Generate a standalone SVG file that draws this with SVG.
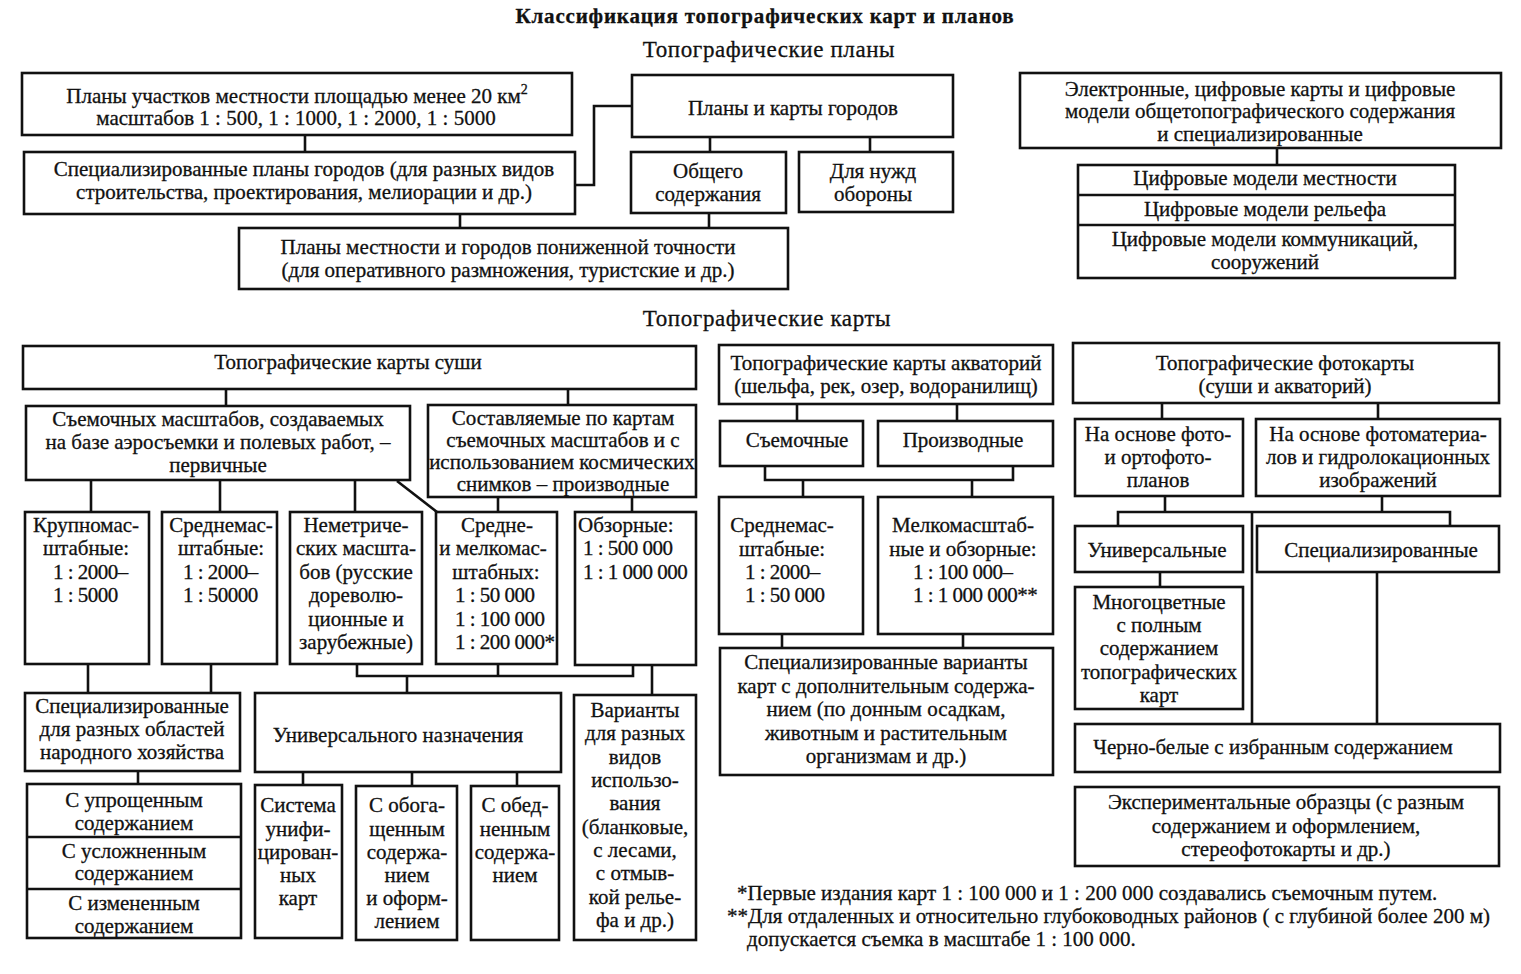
<svg xmlns="http://www.w3.org/2000/svg" width="1521" height="974" viewBox="0 0 1521 974">
<style>
rect{fill:#fff;stroke:#111;stroke-width:2.6}
text{font-family:"Liberation Serif","Times New Roman",serif;font-size:21px;fill:#111;stroke:#111;stroke-width:0.3;text-anchor:middle}
.s{text-anchor:start}
.n{letter-spacing:-0.5px}
.h{font-weight:bold;font-size:21px;letter-spacing:0.8px}
.g{font-size:23px;letter-spacing:0.6px}
.c line,.c polyline{stroke:#111;stroke-width:2.6;fill:none}
</style>
<rect x="0" y="0" width="1521" height="974" style="stroke:none"/>
<text class="h" x="765" y="23">Классификация топографических карт и планов</text>
<text class="g" x="769" y="57">Топографические планы</text>
<text class="g" x="767" y="326">Топографические карты</text>

<g class="c" id="connectors">
<line x1="305" y1="135" x2="305" y2="152"/>
<line x1="460" y1="214" x2="460" y2="228"/>
<polyline points="575,185 594,185 594,106 632,106"/>
<line x1="710" y1="137" x2="710" y2="152"/>
<line x1="870" y1="137" x2="870" y2="152"/>
<line x1="709" y1="213" x2="709" y2="228"/>
<line x1="1277" y1="148" x2="1277" y2="165"/>
<line x1="226" y1="389" x2="226" y2="406"/>
<line x1="568" y1="389" x2="568" y2="405"/>
<line x1="91" y1="480" x2="91" y2="512"/>
<line x1="220" y1="480" x2="220" y2="512"/>
<line x1="355" y1="480" x2="355" y2="512"/>
<line x1="397" y1="481" x2="437" y2="512"/>
<line x1="498" y1="497" x2="498" y2="512"/>
<line x1="632" y1="497" x2="632" y2="512"/>
<line x1="88" y1="664" x2="88" y2="693"/>
<line x1="211" y1="664" x2="211" y2="693"/>
<polyline points="357,664 357,676 633,676 633,665"/>
<line x1="498" y1="664" x2="498" y2="676"/>
<line x1="407" y1="676" x2="407" y2="693"/>
<line x1="652" y1="665" x2="652" y2="695"/>
<line x1="303" y1="772" x2="303" y2="785"/>
<line x1="412" y1="772" x2="412" y2="786"/>
<line x1="517" y1="772" x2="517" y2="786"/>
<line x1="138" y1="771" x2="138" y2="784"/>
<line x1="797" y1="404" x2="797" y2="421"/>
<line x1="957" y1="404" x2="957" y2="421"/>
<polyline points="765,466 765,480 1013,480 1013,466"/>
<line x1="803" y1="480" x2="803" y2="497"/>
<line x1="972" y1="480" x2="972" y2="497"/>
<line x1="782" y1="634" x2="782" y2="648"/>
<line x1="963" y1="634" x2="963" y2="648"/>
<line x1="1162" y1="403" x2="1162" y2="419"/>
<line x1="1378" y1="403" x2="1378" y2="419"/>
<line x1="1165" y1="496" x2="1165" y2="512"/>
<line x1="1382" y1="496" x2="1382" y2="512"/>
<polyline points="1118,526 1118,512 1450,512 1450,526"/>
<line x1="1252" y1="512" x2="1252" y2="724"/>
<line x1="1160" y1="572" x2="1160" y2="587"/>
<line x1="1377" y1="572" x2="1377" y2="724"/>
</g>

<g id="plans-small">
<rect x="22" y="73" width="550" height="62"/>
<text x="297" y="103">Планы участков местности площадью менее 20 км<tspan dy="-9" style="font-size:14px">2</tspan></text>
<text x="296" y="125">масштабов 1 : 500, 1 : 1000, 1 : 2000, 1 : 5000</text>
</g>
<g id="plans-special">
<rect x="24" y="152" width="551" height="62"/>
<text x="304" y="176">Специализированные планы городов (для разных видов</text>
<text x="304" y="199">строительства, проектирования, мелиорации и др.)</text>
</g>
<g id="plans-low">
<rect x="239" y="228" width="549" height="61"/>
<text x="508" y="254">Планы местности и городов пониженной точности</text>
<text x="508" y="277">(для оперативного размножения, туристские и др.)</text>
</g>
<g id="city-plans">
<rect x="632" y="75" width="321" height="62"/>
<text x="793" y="115">Планы и карты городов</text>
</g>
<g id="city-general">
<rect x="631" y="152" width="155" height="61"/>
<text x="708" y="178">Общего</text>
<text x="708" y="201">содержания</text>
</g>
<g id="city-defense">
<rect x="799" y="152" width="154" height="60"/>
<text x="873" y="178">Для нужд</text>
<text x="873" y="201">обороны</text>
</g>
<g id="digital">
<rect x="1020" y="73" width="481" height="75"/>
<text x="1260" y="96">Электронные, цифровые карты и цифровые</text>
<text x="1260" y="118">модели общетопографического содержания</text>
<text x="1260" y="141">и специализированные</text>
</g>
<g id="digital-models">
<rect x="1078" y="165" width="377" height="113"/>
<line x1="1078" y1="195" x2="1455" y2="195" style="stroke:#111;stroke-width:2.6"/>
<line x1="1078" y1="225" x2="1455" y2="225" style="stroke:#111;stroke-width:2.6"/>
<text x="1265" y="185">Цифровые модели местности</text>
<text x="1265" y="216">Цифровые модели рельефа</text>
<text x="1265" y="246">Цифровые модели коммуникаций,</text>
<text x="1265" y="269">сооружений</text>
</g>

<g id="land">
<rect x="23" y="346" width="673" height="43"/>
<text x="348" y="369">Топографические карты суши</text>
</g>
<g id="land-primary">
<rect x="26" y="406" width="384" height="74"/>
<text x="218" y="426">Съемочных масштабов, создаваемых</text>
<text x="218" y="449">на базе аэросъемки  и полевых работ, –</text>
<text x="218" y="472">первичные</text>
</g>
<g id="land-derived">
<rect x="428" y="405" width="268" height="92"/>
<text x="563" y="425">Составляемые по картам</text>
<text x="563" y="447">съемочных масштабов и с</text>
<text x="562" y="469">использованием космических</text>
<text x="563" y="491">снимков – производные</text>
</g>
<g id="large-scale">
<rect x="25" y="512" width="124" height="152"/>
<text x="86" y="532">Крупномас-</text>
<text x="86" y="555">штабные:</text>
<text class="s n" x="53" y="579">1 : 2000–</text>
<text class="s n" x="53" y="602">1 : 5000</text>
</g>
<g id="medium-scale">
<rect x="162" y="512" width="115" height="152"/>
<text x="221" y="532">Среднемас-</text>
<text x="221" y="555">штабные:</text>
<text class="s n" x="183" y="579">1 : 2000–</text>
<text class="s n" x="183" y="602">1 : 50000</text>
</g>
<g id="nonmetric">
<rect x="290" y="512" width="132" height="152"/>
<text x="356" y="532">Неметриче-</text>
<text x="356" y="555">ских масшта-</text>
<text x="356" y="579">бов (русские</text>
<text x="356" y="602">дореволю-</text>
<text x="356" y="626">ционные и</text>
<text x="356" y="649">зарубежные)</text>
</g>
<g id="medium-small">
<rect x="436" y="512" width="121" height="152"/>
<text x="497" y="532">Средне-</text>
<text x="493" y="555">и мелкомас-</text>
<text x="496" y="579">штабных:</text>
<text class="s n" x="455" y="602">1 : 50 000</text>
<text class="s n" x="455" y="626">1 : 100 000</text>
<text class="s n" x="455" y="649">1 : 200 000*</text>
</g>
<g id="overview">
<rect x="575" y="512" width="121" height="153"/>
<text class="s" x="578" y="532">Обзорные:</text>
<text class="s n" x="583" y="555">1 : 500 000</text>
<text class="s n" x="583" y="579">1 : 1 000 000</text>
</g>
<g id="specialized-land">
<rect x="25" y="693" width="215" height="78"/>
<text x="132" y="713">Специализированные</text>
<text x="132" y="736">для разных областей</text>
<text x="132" y="759">народного хозяйства</text>
</g>
<g id="universal">
<rect x="255" y="693" width="306" height="79"/>
<text x="398" y="742">Универсального назначения</text>
</g>
<g id="variants">
<rect x="574" y="695" width="122" height="245"/>
<text x="635" y="717">Варианты</text>
<text x="635" y="740">для разных</text>
<text x="635" y="764">видов</text>
<text x="635" y="787">использо-</text>
<text x="635" y="810">вания</text>
<text x="635" y="834">(бланковые,</text>
<text x="635" y="857">с лесами,</text>
<text x="635" y="880">с отмыв-</text>
<text x="635" y="904">кой релье-</text>
<text x="635" y="927">фа и др.)</text>
</g>
<g id="unified">
<rect x="255" y="785" width="87" height="153"/>
<text x="298" y="812">Система</text>
<text x="298" y="836">унифи-</text>
<text x="298" y="859">цирован-</text>
<text x="298" y="882">ных</text>
<text x="298" y="905">карт</text>
</g>
<g id="enriched">
<rect x="356" y="786" width="101" height="154"/>
<text x="407" y="812">С обога-</text>
<text x="407" y="836">щенным</text>
<text x="407" y="859">содержа-</text>
<text x="407" y="882">нием</text>
<text x="407" y="905">и оформ-</text>
<text x="407" y="928">лением</text>
</g>
<g id="depleted">
<rect x="471" y="786" width="88" height="154"/>
<text x="515" y="812">С обед-</text>
<text x="515" y="836">ненным</text>
<text x="515" y="859">содержа-</text>
<text x="515" y="882">нием</text>
</g>
<g id="content-variants">
<rect x="27" y="784" width="214" height="154"/>
<line x1="27" y1="837" x2="241" y2="837" style="stroke:#111;stroke-width:2.6"/>
<line x1="27" y1="889" x2="241" y2="889" style="stroke:#111;stroke-width:2.6"/>
<text x="134" y="807">С упрощенным</text>
<text x="134" y="830">содержанием</text>
<text x="134" y="858">С усложненным</text>
<text x="134" y="880">содержанием</text>
<text x="134" y="910">С измененным</text>
<text x="134" y="933">содержанием</text>
</g>

<g id="water">
<rect x="719" y="345" width="334" height="59"/>
<text x="886" y="370">Топографические карты акваторий</text>
<text x="886" y="393">(шельфа, рек, озер, водоранилищ)</text>
</g>
<g id="water-survey">
<rect x="720" y="421" width="143" height="45"/>
<text x="797" y="447">Съемочные</text>
</g>
<g id="water-derived">
<rect x="878" y="421" width="175" height="45"/>
<text x="963" y="447">Производные</text>
</g>
<g id="water-medium">
<rect x="719" y="497" width="144" height="137"/>
<text x="782" y="532">Среднемас-</text>
<text x="782" y="556">штабные:</text>
<text class="s n" x="745" y="579">1 : 2000–</text>
<text class="s n" x="745" y="602">1 : 50 000</text>
</g>
<g id="water-small">
<rect x="878" y="497" width="175" height="137"/>
<text x="963" y="532">Мелкомасштаб-</text>
<text x="963" y="556">ные и обзорные:</text>
<text class="s n" x="913" y="579">1 : 100 000–</text>
<text class="s n" x="913" y="602">1 : 1 000 000**</text>
</g>
<g id="water-special">
<rect x="720" y="648" width="333" height="127"/>
<text x="886" y="669">Специализированные варианты</text>
<text x="886" y="693">карт с дополнительным содержа-</text>
<text x="886" y="716">нием (по донным осадкам,</text>
<text x="886" y="740">животным и растительным</text>
<text x="886" y="763">организмам и др.)</text>
</g>

<g id="photo">
<rect x="1073" y="343" width="426" height="60"/>
<text x="1285" y="370">Топографические фотокарты</text>
<text x="1285" y="393">(суши и акваторий)</text>
</g>
<g id="photo-ortho">
<rect x="1075" y="419" width="168" height="77"/>
<text x="1158" y="441">На основе фото-</text>
<text x="1158" y="464">и ортофото-</text>
<text x="1158" y="487">планов</text>
</g>
<g id="photo-hydro">
<rect x="1256" y="419" width="244" height="77"/>
<text x="1378" y="441">На основе фотоматериа-</text>
<text x="1378" y="464">лов и гидролокационных</text>
<text x="1378" y="487">изображений</text>
</g>
<g id="photo-universal">
<rect x="1075" y="526" width="168" height="46"/>
<text x="1157" y="557">Универсальные</text>
</g>
<g id="photo-special">
<rect x="1257" y="526" width="242" height="46"/>
<text x="1381" y="557">Специализированные</text>
</g>
<g id="photo-multicolor">
<rect x="1075" y="587" width="168" height="122"/>
<text x="1159" y="609">Многоцветные</text>
<text x="1159" y="632">с полным</text>
<text x="1159" y="655">содержанием</text>
<text x="1159" y="679">топографических</text>
<text x="1159" y="702">карт</text>
</g>
<g id="photo-bw">
<rect x="1075" y="724" width="425" height="48"/>
<text x="1273" y="754">Черно-белые с избранным содержанием</text>
</g>
<g id="photo-experimental">
<rect x="1075" y="787" width="424" height="79"/>
<text x="1286" y="809">Экспериментальные образцы (с разным</text>
<text x="1286" y="833">содержанием и оформлением,</text>
<text x="1286" y="856">стереофотокарты и др.)</text>
</g>

<g id="footnotes">
<text class="s" x="737" y="900">*Первые издания карт 1 : 100 000 и 1 : 200 000 создавались съемочным путем.</text>
<text class="s" x="727" y="923">**Для отдаленных и относительно глубоководных районов ( с глубиной более 200 м)</text>
<text class="s" x="747" y="946">допускается съемка в масштабе 1 : 100 000.</text>
</g>
</svg>
